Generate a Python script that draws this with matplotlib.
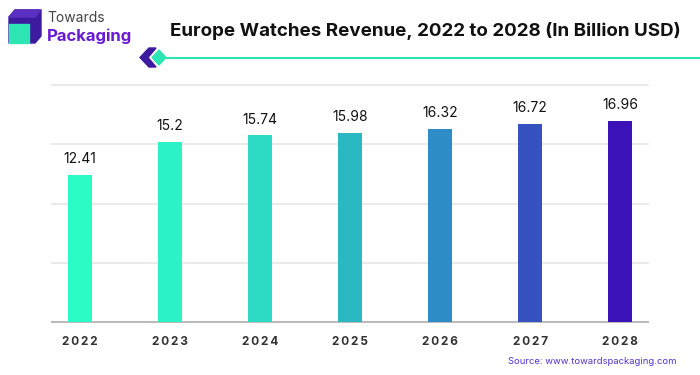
import matplotlib
matplotlib.use("Agg")
import matplotlib.pyplot as plt
from matplotlib.patches import Polygon, Rectangle

years = ["2022", "2023", "2024", "2025", "2026", "2027", "2028"]
values = [12.41, 15.2, 15.74, 15.98, 16.32, 16.72, 16.96]
colors = ["#2BFCC6", "#2CF2C8", "#2DDAC4", "#2BB8C2", "#2E8CC6", "#3552C0", "#3A12B8"]
title = "Europe Watches Revenue, 2022 to 2028 (In Billion USD)"
source = "Source: www.towardspackaging.com"

W, H = 700, 375
fig = plt.figure(figsize=(7, 3.75), dpi=100)
plt.rcParams['font.family'] = ['Inter', 'DejaVu Sans']

ax = fig.add_axes([52 / W, 1 - 322 / H, (648 - 52) / W, (322 - 85) / H])
x = list(range(len(years)))
bars = ax.bar(x, values, width=0.27, color=colors, zorder=3)
for xi, v in zip(x, values):
    ax.text(xi, v + 0.75, f"{v:g}", ha="center", va="bottom", fontsize=10, color="#111111")
ax.set_xlim(-0.31, 6.31)
ax.set_ylim(0, 19.7)
ax.set_yticks([0, 5, 10, 15, 20])
ax.yaxis.grid(True, color="#E6E6E6", linewidth=1.2, zorder=0)
ax.tick_params(axis="y", left=False, labelleft=False)
ax.tick_params(axis="x", length=0, pad=10)
ax.set_xticks(x)
ax.set_xticklabels(["\u2009".join(y) for y in years], fontsize=8.5, fontweight="bold", color="#333333")
for s in ["top", "right", "left"]:
    ax.spines[s].set_visible(False)
ax.spines["bottom"].set_color("#BBBBBB")
ax.spines["bottom"].set_linewidth(1.5)
ax.set_clip_on(False)
for gl in ax.get_ygridlines():
    gl.set_clip_on(False)

# Title
fig.text(425 / W, 1 - 31 / H, title, ha="center", va="center", fontsize=13.5, fontweight="bold", color="#111111")

# Decorative line
ov = fig.add_axes([0, 0, 1, 1], zorder=5)
ov.set_xlim(0, W)
ov.set_ylim(H, 0)
ov.axis("off")
ov.plot([160, 700], [57.5, 57.5], color="#2EE6B4", linewidth=1.5)
ov.add_patch(Polygon([[149, 48], [156, 48], [148, 57.5], [156, 67], [149, 67], [140, 57.5]], closed=True, color="#3D1A9E"))
ov.add_patch(Polygon([[159, 50], [166, 57.5], [159, 65], [152, 57.5]], closed=True, color="#2EE6B4"))

# Logo
ov.add_patch(Polygon([[9, 17], [15, 10], [41, 10], [41, 36], [35, 43], [9, 43]], closed=True, color="#3D1A9E"))
ov.add_patch(Polygon([[9, 17], [15, 10], [41, 10], [35, 17]], closed=True, color="#5A2FC2"))
ov.add_patch(Rectangle((9, 24), 20, 19, color="#2EE6B4"))
ov.text(47, 18, "Towards", fontsize=10, color="#444444", va="center", ha="left")
ov.text(47, 36, "Packaging", fontsize=12, color="#6A1BD1", fontweight="bold", va="center", ha="left")

# Source
fig.text(677 / W, 1 - 362 / H, source, ha="right", va="center", fontsize=6.8, color="#5533CC")

fig.savefig("out.png", dpi=100, facecolor="white")
